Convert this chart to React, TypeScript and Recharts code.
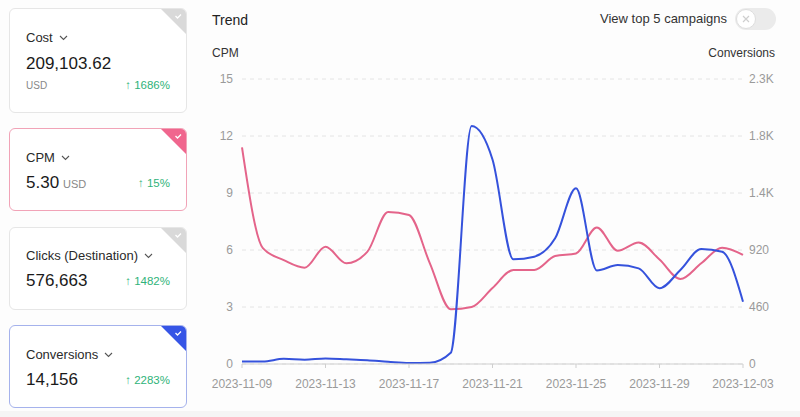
import React from "react";
import { LineChart, Line, XAxis, YAxis, CartesianGrid } from "recharts";

const dates = [
  "2023-11-09", "2023-11-10", "2023-11-11", "2023-11-12", "2023-11-13",
  "2023-11-14", "2023-11-15", "2023-11-16", "2023-11-17", "2023-11-18",
  "2023-11-19", "2023-11-20", "2023-11-21", "2023-11-22", "2023-11-23",
  "2023-11-24", "2023-11-25", "2023-11-26", "2023-11-27", "2023-11-28",
  "2023-11-29", "2023-11-30", "2023-12-01", "2023-12-02", "2023-12-03",
];
const cpm = [11.4, 6.1, 5.47, 5.07, 6.17, 5.3, 5.9, 8.0, 7.84, 5.3, 2.88, 3.0, 4.0, 4.95, 4.95, 5.68, 5.82, 7.19, 5.96, 6.39, 5.5, 4.47, 5.3, 6.12, 5.74];
const conversions = [20, 20, 42, 35, 45, 38, 30, 18, 8, 10, 90, 1920, 1650, 845, 866, 1014, 1418, 755, 799, 772, 611, 759, 928, 906, 503];
const xTicks = ["2023-11-09", "2023-11-13", "2023-11-17", "2023-11-21", "2023-11-25", "2023-11-29", "2023-12-03"];
const leftTicks = [0, 3, 6, 9, 12, 15];
const rightTicks = [0, 460, 920, 1380, 1840, 2300];

const cards = [
  { title: "Cost", value: "209,103.62", unit: "USD", unitBelow: true, pct: "1686%" },
  { title: "CPM", value: "5.30", unit: "USD", unitBelow: false, pct: "15%" },
  { title: "Clicks (Destination)", value: "576,663", unit: "", unitBelow: false, pct: "1482%" },
  { title: "Conversions", value: "14,156", unit: "", unitBelow: false, pct: "2283%" },
];

const data = dates.map((d, i) => ({ date: d, cpm: cpm[i], conv: conversions[i] }));

const FONT = "'Liberation Sans', Arial, Helvetica, sans-serif";
const PINK = "#e4648a";
const BLUE = "#3552dc";

const fmtRight = (v: number) => (v >= 1000 ? (v / 1000).toFixed(1) + "K" : String(v));

function Txt(props: any) {
  const { x, right, baseline, size, color, weight, children } = props;
  const top = baseline - 0.85 * size;
  const style: any = {
    position: "absolute",
    top,
    fontSize: size,
    lineHeight: size + "px",
    color,
    fontWeight: weight || 400,
    whiteSpace: "nowrap",
    fontFamily: FONT,
  };
  if (right !== undefined) style.right = 800 - right;
  else style.left = x;
  return <div style={style}>{children}</div>;
}

function Chevron() {
  return (
    <svg width="9" height="6" style={{ marginLeft: 6, verticalAlign: "middle", position: "relative", top: -1 }}>
      <polyline points="1,1 4.5,4.5 8,1" fill="none" stroke="#555" strokeWidth="1.1" />
    </svg>
  );
}

function Card(props: any) {
  const { top, height, border, corner, card, titleB, valueB, unitB, pctB } = props;
  return (
    <>
      <div
        style={{
          position: "absolute",
          left: 9,
          top,
          width: 176,
          height,
          border: "1px solid " + border,
          borderRadius: 6,
          background: "#fff",
          overflow: "hidden",
        }}
      >
        <svg width="25" height="25" style={{ position: "absolute", right: 0, top: 0 }}>
          <polygon points="0,0 25,0 25,25" fill={corner} />
          <polyline points="14.5,7 16.5,9 20,5.5" fill="none" stroke="#fff" strokeWidth="1.3" />
        </svg>
      </div>
      <Txt x={26} baseline={titleB} size={13} color="#2a2a2a">
        {card.title}
        <Chevron />
      </Txt>
      <Txt x={26} baseline={valueB} size={17} color="#1a1a1a">
        {card.value}
        {card.unit && !card.unitBelow ? (
          <span style={{ fontSize: 11, color: "#888", marginLeft: 4 }}>{card.unit}</span>
        ) : null}
      </Txt>
      {card.unit && card.unitBelow ? (
        <Txt x={26} baseline={unitB} size={10} color="#888">
          {card.unit}
        </Txt>
      ) : null}
      <Txt right={170} baseline={pctB} size={11.5} color="#2fb37a">
        {"\u2191 " + card.pct}
      </Txt>
    </>
  );
}

export default function App() {
  return (
    <div
      style={{
        position: "absolute",
        left: 0,
        top: 0,
        width: 800,
        height: 417,
        background: "#fdfdfd",
        overflow: "hidden",
        fontFamily: FONT,
      }}
    >
      <div style={{ position: "absolute", left: 0, top: 411, width: 800, height: 6, background: "#f5f5f5" }} />
      <Card top={8} height={103} border="#e6e6e6" corner="#d9d9d9" card={cards[0]} titleB={42} valueB={69} unitB={89.5} pctB={89.5} />
      <Card top={128} height={81} border="#f1a3b7" corner="#f0668e" card={cards[1]} titleB={162} valueB={188} unitB={188} pctB={188} />
      <Card top={227} height={81} border="#e6e6e6" corner="#d9d9d9" card={cards[2]} titleB={260.5} valueB={286.5} unitB={286} pctB={286} />
      <Card top={325} height={81} border="#a5b2ec" corner="#3655e6" card={cards[3]} titleB={359} valueB={385} unitB={384} pctB={384.5} />

      <Txt x={212} baseline={25} size={14} color="#222" weight={500}>Trend</Txt>
      <Txt right={727} baseline={23.5} size={13} color="#333">View top 5 campaigns</Txt>
      <div style={{ position: "absolute", left: 735, top: 8, width: 41, height: 22, borderRadius: 11, background: "#ebebeb" }} />
      <svg width="22" height="22" style={{ position: "absolute", left: 735, top: 8 }}>
        <circle cx="11" cy="11" r="9.5" fill="#fff" stroke="#dedede" strokeWidth="1" />
        <path d="M8,8 L14,14 M14,8 L8,14" stroke="#cfcfcf" strokeWidth="1.2" />
      </svg>
      <Txt x={212} baseline={57} size={12} color="#333">CPM</Txt>
      <Txt right={775} baseline={57} size={12} color="#333">Conversions</Txt>

      <div style={{ position: "absolute", left: 0, top: 0 }}>
        <LineChart
          width={800}
          height={417}
          data={data}
          margin={{ top: 79, right: 7, bottom: 23, left: 207 }}
          style={{ fontFamily: FONT }}
        >
          <CartesianGrid vertical={false} stroke="#e4e4e4" strokeDasharray="4 4" yAxisId="left" />
          <XAxis
            dataKey="date"
            ticks={xTicks}
            interval={0}
            height={30}
            axisLine={{ stroke: "#cfcfcf" }}
            tickLine={{ stroke: "#cfcfcf" }}
            tickSize={4}
            tickMargin={11}
            tick={{ fill: "#9a9a9a", fontSize: 12, fontFamily: FONT }}
          />
          <YAxis
            yAxisId="left"
            orientation="left"
            width={35}
            domain={[0, 15]}
            ticks={leftTicks}
            axisLine={false}
            tickLine={false}
            tickSize={0}
            tickMargin={9}
            tick={{ fill: "#9a9a9a", fontSize: 12, fontFamily: FONT }}
          />
          <YAxis
            yAxisId="right"
            orientation="right"
            width={50}
            domain={[0, 2300]}
            ticks={rightTicks}
            tickFormatter={fmtRight}
            axisLine={false}
            tickLine={false}
            tickSize={0}
            tickMargin={6}
            tick={{ fill: "#9a9a9a", fontSize: 12, fontFamily: FONT }}
          />
          <Line yAxisId="left" type="monotone" dataKey="cpm" stroke={PINK} strokeWidth={2} dot={false} isAnimationActive={false} />
          <Line yAxisId="right" type="monotone" dataKey="conv" stroke={BLUE} strokeWidth={2} dot={false} isAnimationActive={false} />
        </LineChart>
      </div>
    </div>
  );
}
